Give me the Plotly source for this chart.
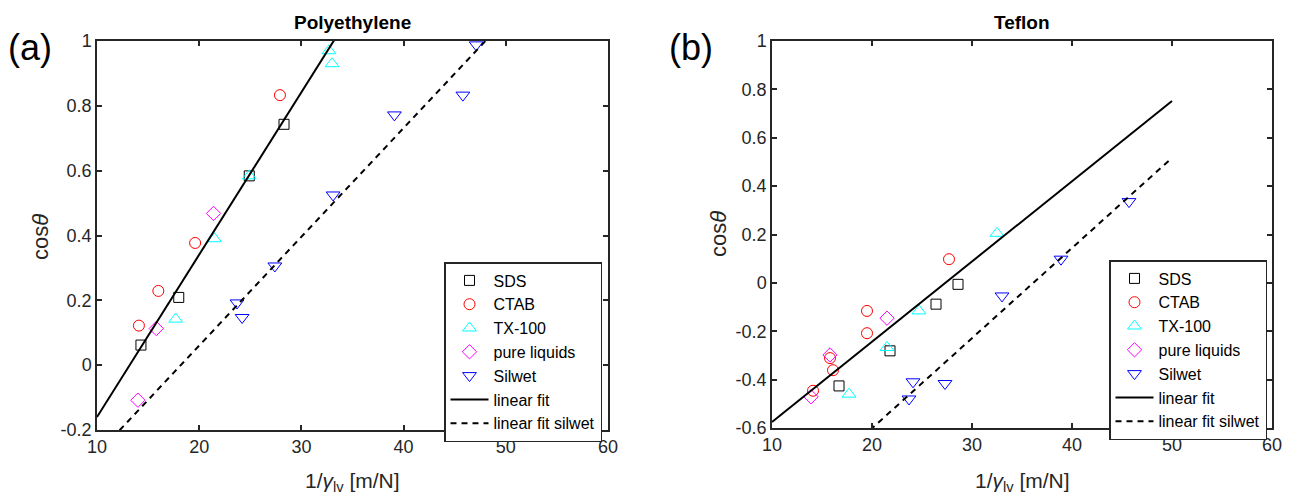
import plotly.graph_objects as go

# ---------------- data: Polyethylene (a) ----------------
pe_sds_x = [14.3, 18.0, 24.9, 28.3]
pe_sds_y = [0.062, 0.209, 0.584, 0.743]
pe_ctab_x = [14.1, 16.0, 19.6, 27.9]
pe_ctab_y = [0.122, 0.229, 0.377, 0.833]
pe_tx_x = [17.7, 21.5, 24.9, 32.7, 33.0]
pe_tx_y = [0.142, 0.390, 0.584, 0.970, 0.930]
pe_pure_x = [14.0, 15.8, 21.4]
pe_pure_y = [-0.108, 0.113, 0.468]
pe_sil_x = [23.7, 24.2, 27.4, 33.1, 39.1, 45.8, 47.1]
pe_sil_y = [0.192, 0.147, 0.306, 0.525, 0.772, 0.833, 0.988]
pe_fit_x = [10, 50]
pe_fit_y = [-0.16, 1.844]
pe_fit_sil_x = [10, 50]
pe_fit_sil_y = [-0.275, 1.067]

# ---------------- data: Teflon (b) ----------------
tf_sds_x = [16.7, 21.8, 26.4, 28.6]
tf_sds_y = [-0.426, -0.281, -0.088, -0.006]
tf_ctab_x = [14.1, 15.8, 16.1, 19.5, 19.5, 27.7]
tf_ctab_y = [-0.446, -0.311, -0.361, -0.208, -0.116, 0.098]
tf_tx_x = [17.7, 21.5, 24.7, 32.5]
tf_tx_y = [-0.460, -0.267, -0.116, 0.205]
tf_pure_x = [13.9, 15.8, 21.5]
tf_pure_y = [-0.471, -0.298, -0.146]
tf_sil_x = [23.7, 24.1, 27.3, 33.0, 38.9, 45.7]
tf_sil_y = [-0.480, -0.409, -0.416, -0.054, 0.098, 0.336]
tf_fit_x = [10, 50]
tf_fit_y = [-0.575, 0.752]
tf_fit_sil_x = [10, 50]
tf_fit_sil_y = [-0.974, 0.517]

x_ticks = [10, 20, 30, 40, 50, 60]
x_ticktext = ["10", "20", "30", "40", "50", "60"]
pe_yticks = [-0.2, 0, 0.2, 0.4, 0.6, 0.8, 1]
pe_yticktext = ["-0.2", "0", "0.2", "0.4", "0.6", "0.8", "1"]
tf_yticks = [-0.6, -0.4, -0.2, 0, 0.2, 0.4, 0.6, 0.8, 1]
tf_yticktext = ["-0.6", "-0.4", "-0.2", "0", "0.2", "0.4", "0.6", "0.8", "1"]

names = ["SDS", "CTAB", "TX-100", "pure liquids", "Silwet"]
colors = ["#000000", "#ff0000", "#00ffff", "#ff00ff", "#0000ff"]
symbols = ["square-open", "circle-open", "triangle-up-open", "diamond-open", "triangle-down-open"]
sizes = [10, 11, 12, 11, 12]

FONT = "Liberation Sans, Arial, Helvetica, sans-serif"
AX = "#262626"

fig = go.Figure()

panels = [
    dict(xa="x", ya="y", legend="legend",
         series=[(pe_sds_x, pe_sds_y), (pe_ctab_x, pe_ctab_y), (pe_tx_x, pe_tx_y),
                 (pe_pure_x, pe_pure_y), (pe_sil_x, pe_sil_y)],
         fit=(pe_fit_x, pe_fit_y), fit_sil=(pe_fit_sil_x, pe_fit_sil_y)),
    dict(xa="x2", ya="y2", legend="legend2",
         series=[(tf_sds_x, tf_sds_y), (tf_ctab_x, tf_ctab_y), (tf_tx_x, tf_tx_y),
                 (tf_pure_x, tf_pure_y), (tf_sil_x, tf_sil_y)],
         fit=(tf_fit_x, tf_fit_y), fit_sil=(tf_fit_sil_x, tf_fit_sil_y)),
]

for p in panels:
    for (sx, sy), nm, c, sym, sz in zip(p["series"], names, colors, symbols, sizes):
        fig.add_trace(go.Scatter(
            x=sx, y=sy, mode="markers", name=nm,
            marker=dict(symbol=sym, color=c, size=sz, line=dict(width=1, color=c)),
            xaxis=p["xa"], yaxis=p["ya"], legend=p["legend"], cliponaxis=False))
    fig.add_trace(go.Scatter(
        x=p["fit"][0], y=p["fit"][1], mode="lines", name="linear fit",
        line=dict(color="black", width=2),
        xaxis=p["xa"], yaxis=p["ya"], legend=p["legend"]))
    fig.add_trace(go.Scatter(
        x=p["fit_sil"][0], y=p["fit_sil"][1], mode="lines", name="linear fit silwet",
        line=dict(color="black", width=2, dash="6px,5px"),
        xaxis=p["xa"], yaxis=p["ya"], legend=p["legend"]))

# page is offset by the browser's 8px body margin: work in page pixels, convert
OFF = 8
W, H = 1294 - OFF, 492 - OFF


def px(xp):
    return (xp - OFF) / W


def py(yp):
    return 1 - (yp - OFF) / H


L1, R1 = 97, 608
L2, R2 = 772, 1272
T = 41
B1, B2 = 430, 428

axis_common = dict(
    showline=True, linecolor=AX, linewidth=1.5, mirror="allticks",
    ticks="inside", ticklen=5, tickwidth=1.5, tickcolor=AX,
    showgrid=False, zeroline=False, automargin=False,
    tickfont=dict(family=FONT, size=18, color=AX),
)

legend_common = dict(
    xanchor="left", yanchor="top",
    bgcolor="white", bordercolor=AX, borderwidth=1.5,
    font=dict(family=FONT, size=16, color="black"),
    itemwidth=38, tracegroupgap=0,
)

fig.update_layout(
    template="none",
    width=W, height=H,
    margin=dict(l=0, r=0, t=0, b=0, autoexpand=False),
    paper_bgcolor="white", plot_bgcolor="white",
    font=dict(family=FONT, color=AX),
    xaxis=dict(domain=[px(L1), px(R1)], range=[10, 60], anchor="y",
               tickvals=x_ticks, ticktext=x_ticktext, **axis_common),
    yaxis=dict(domain=[py(B1), py(T)], range=[-0.2, 1], anchor="x",
               tickvals=pe_yticks, ticktext=pe_yticktext, **axis_common),
    xaxis2=dict(domain=[px(L2), px(R2)], range=[10, 60], anchor="y2",
                tickvals=x_ticks, ticktext=x_ticktext, **axis_common),
    yaxis2=dict(domain=[py(B2), py(T)], range=[-0.6, 1], anchor="x2",
                tickvals=tf_yticks, ticktext=tf_yticktext, **axis_common),
    legend=dict(x=px(444), y=py(262), **legend_common),
    legend2=dict(x=px(1109), y=py(260), **legend_common),
    showlegend=True,
)

xtitle = "1/<i>γ</i><sub>lv</sub> [m/N]"
ytitle = "cos<i>θ</i>"


def ann(text, xp, yp, size, color="black", xanchor="center", angle=0):
    return dict(text=text, x=px(xp), y=py(yp), xref="paper", yref="paper",
                showarrow=False, textangle=angle,
                font=dict(family=FONT, size=size, color=color),
                xanchor=xanchor, yanchor="middle")


annotations = [
    ann("<b>Polyethylene</b>", (L1 + R1) / 2, 23, 19),
    ann("<b>Teflon</b>", (L2 + R2) / 2, 23, 19),
    ann("(a)", 6, 47, 36, xanchor="left"),
    ann("(b)", 667, 47, 36, xanchor="left"),
    ann(xtitle, (L1 + R1) / 2, 482, 21, color=AX),
    ann(xtitle, (L2 + R2) / 2, 482, 21, color=AX),
    ann(ytitle, 41, 237, 22, color=AX, angle=-90),
    ann(ytitle, 718, 234, 22, color=AX, angle=-90),
]
fig.update_layout(annotations=annotations)

fig.write_html("out.html")
